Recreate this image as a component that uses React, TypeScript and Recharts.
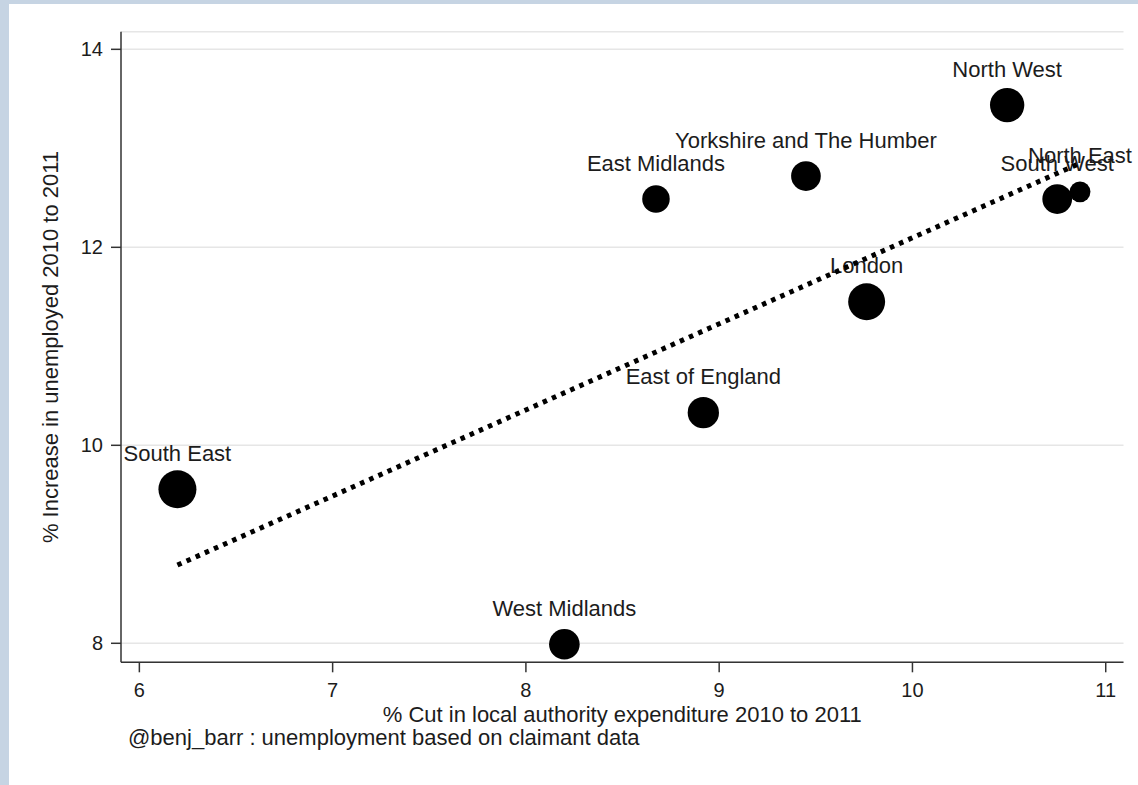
import React from "react";
import {
  CartesianGrid,
  Label,
  ReferenceLine,
  Scatter,
  ScatterChart,
  XAxis,
  YAxis,
  ZAxis,
} from "recharts";

// regions in plotting order
const regions = [
  "South East",
  "West Midlands",
  "East Midlands",
  "East of England",
  "Yorkshire and The Humber",
  "London",
  "North West",
  "South West",
  "North East",
];
// % cut in local authority expenditure 2010 to 2011
const expenditureCut = [6.197, 8.199, 8.673, 8.918, 9.449, 9.763, 10.49, 10.749, 10.867];
// % increase in unemployed 2010 to 2011
const unemployedRise = [9.556, 7.99, 12.488, 10.33, 12.72, 11.45, 13.437, 12.488, 12.56];
// marker weight (population, millions)
const population = [8.63, 5.6, 4.53, 5.85, 5.28, 8.17, 7.05, 5.29, 2.6];

const xTicks = [6, 7, 8, 9, 10, 11];
const yTicks = [8, 10, 12, 14];

// fitted line end points
const fitCut = [6.197, 10.867];
const fitRise = [8.79, 12.85];

const FONT = '"Liberation Sans", Arial, Helvetica, sans-serif';
const INK = "#1c1c1c";

const points = regions.map((name, i) => ({
  name,
  cut: expenditureCut[i],
  rise: unemployedRise[i],
  pop: population[i],
}));

function Marker(props: any) {
  const { cx, cy, size, width, payload } = props;
  if (cx == null || cy == null) return null;
  const r = size != null ? Math.sqrt(size / Math.PI) : (width ?? 30) / 2;
  return (
    <g>
      <circle cx={cx} cy={cy} r={r} fill="#000" />
      <text
        x={cx}
        y={cy - 28.5}
        textAnchor="middle"
        fontSize={22}
        fontFamily={FONT}
        fill={INK}
      >
        {payload?.name}
      </text>
    </g>
  );
}

export default function App() {
  const axisStroke = { stroke: "#333", strokeWidth: 1.5 };
  const tick = { fill: INK, fontSize: 20, fontFamily: FONT };

  return (
    <div
      style={{
        position: "absolute",
        left: 0,
        top: 0,
        width: 1138,
        height: 785,
        background: "#c6d4e3",
        overflow: "hidden",
      }}
    >
      <div
        style={{
          position: "absolute",
          left: 9,
          top: 4,
          width: 1129,
          height: 781,
          background: "#fff",
        }}
      >
        <ScatterChart
          width={1129}
          height={781}
          margin={{ top: 27.7, right: 14.5, bottom: 58.7, left: 0 }}
          style={{ overflow: "visible" }}
        >
          <CartesianGrid vertical={false} stroke="#e6e6e6" strokeWidth={1.5} />
          <XAxis
            type="number"
            dataKey="cut"
            domain={[5.905, 11.092]}
            ticks={xTicks}
            height={64}
            tickSize={10}
            tickMargin={10}
            axisLine={axisStroke}
            tickLine={axisStroke}
            tick={tick}
          >
            <Label
              value="% Cut in local authority expenditure 2010 to 2011"
              position="insideBottom"
              offset={4.3}
              fontSize={22}
              fontFamily={FONT}
              fill={INK}
            />
          </XAxis>
          <YAxis
            type="number"
            dataKey="rise"
            domain={[7.808, 14.178]}
            ticks={yTicks}
            width={112}
            tickSize={10}
            tickMargin={8}
            axisLine={axisStroke}
            tickLine={axisStroke}
            tick={tick}
          >
            <Label
              value="% Increase in unemployed 2010 to 2011"
              angle={-90}
              position="insideLeft"
              offset={41}
              fontSize={22}
              fontFamily={FONT}
              fill={INK}
              style={{ textAnchor: "middle" }}
            />
          </YAxis>
          <ZAxis type="number" dataKey="pop" domain={[0, 10]} range={[0, 1314]} />
          <Scatter
            data={points}
            shape={<Marker />}
            isAnimationActive={false}
          />
          <ReferenceLine
            segment={[
              { x: fitCut[0], y: fitRise[0] },
              { x: fitCut[1], y: fitRise[1] },
            ]}
            stroke="#000"
            strokeWidth={5}
            strokeDasharray="4.5 5.5"
            zIndex={1000}
          />
        </ScatterChart>
        <div
          style={{
            position: "absolute",
            left: 119,
            top: 723.4,
            fontFamily: FONT,
            fontSize: 22,
            lineHeight: "22px",
            color: INK,
            whiteSpace: "nowrap",
          }}
        >
          @benj_barr : unemployment based on claimant data
        </div>
      </div>
    </div>
  );
}
